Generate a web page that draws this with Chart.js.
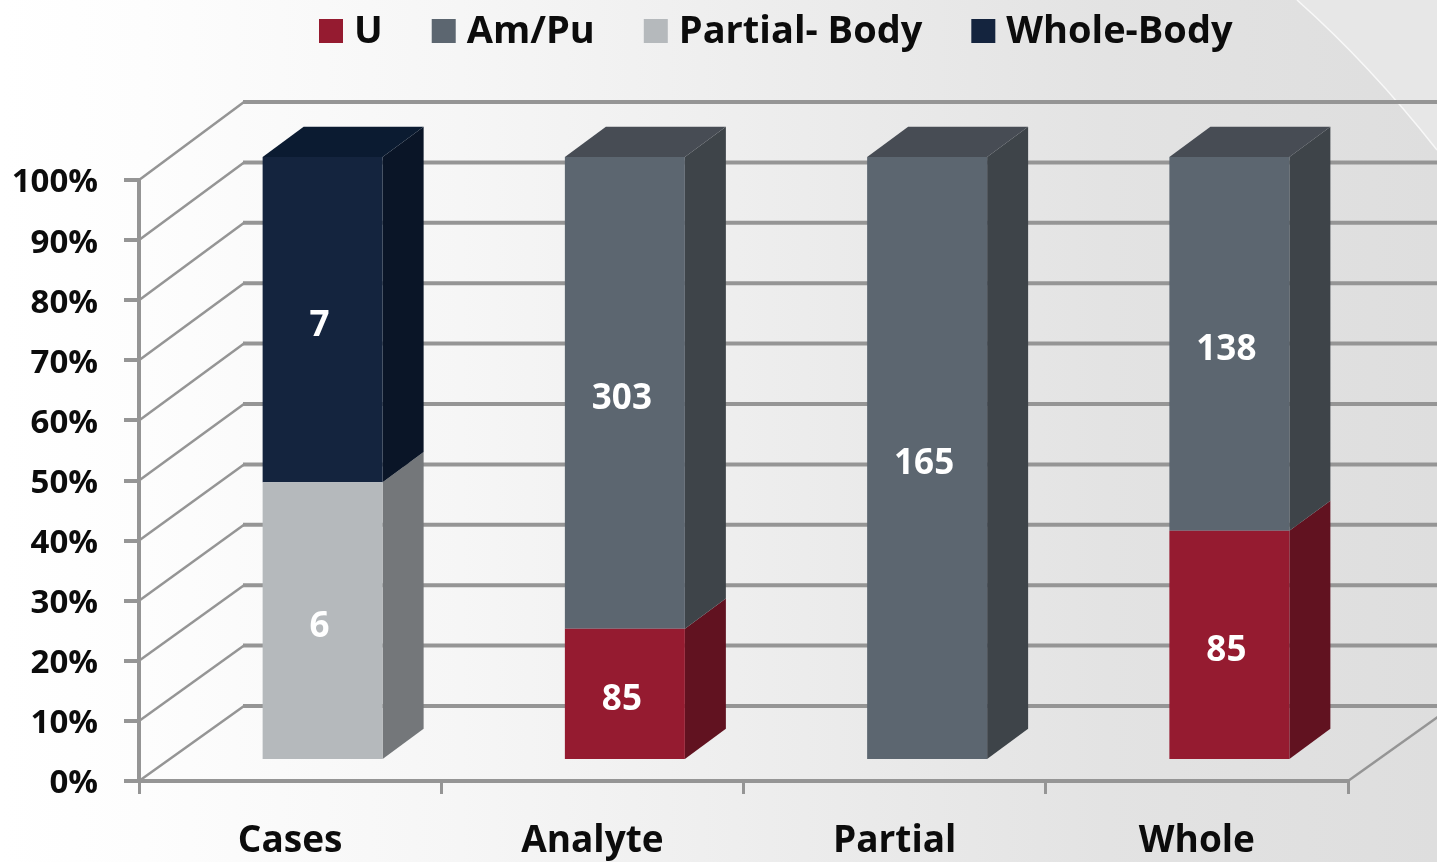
<!DOCTYPE html>
<html><head><meta charset="utf-8">
<style>html,body{margin:0;padding:0;background:#fff;overflow:hidden}canvas{display:block;filter:blur(0.5px)}</style>
<script src="https://cdn.jsdelivr.net/npm/chart.js@4/dist/chart.umd.min.js"></script>
</head><body><canvas id="c" width="1437" height="862"></canvas>
<script>
const categories = ['Cases', 'Analyte', 'Partial', 'Whole'];
const uCounts = [0, 85, 0, 85];
const amPuCounts = [0, 303, 165, 138];
const partialBodyCounts = [6, 0, 0, 0];
const wholeBodyCounts = [7, 0, 0, 0];
const seriesNames = ['U', 'Am/Pu', 'Partial- Body', 'Whole-Body'];
const seriesCounts = [uCounts, amPuCounts, partialBodyCounts, wholeBodyCounts];
const frontColors = ['#951b30', '#5c6670', '#b5b9bc', '#14243e'];
const sideColors = ['#611220', '#3e4449', '#74777a', '#0a1527'];
const topColors = ['#701525', '#474c54', '#8a8d90', '#0b1b31'];

const FONT = '"Open Sans", Lato, sans-serif';
const totals = categories.map((_, i) => seriesCounts.reduce((s, a) => s + a[i], 0));
const share = a => a.map((v, i) => v / totals[i] * 100);

const DX = 32.5, DY = -20, SY = 1.005, DEPTH_X = 41, DEPTH_Y = 30, BACK_X = 105;
const sceneY = y => 780 + (y - 780) * SY;

const paintBackground = {
  id: 'paintBackground',
  beforeDraw(chart) {
    const { ctx, width, height } = chart;
    const g = ctx.createLinearGradient(0, 0, width, 0);
    g.addColorStop(0, '#ffffff');
    g.addColorStop(0.1, '#fdfdfd');
    g.addColorStop(0.32, '#f6f6f6');
    g.addColorStop(0.56, '#ececec');
    g.addColorStop(0.77, '#e3e3e3');
    g.addColorStop(1, '#dedede');
    ctx.save();
    ctx.fillStyle = g;
    ctx.fillRect(0, 0, width, height);
    ctx.beginPath();
    ctx.moveTo(1297, 0);
    ctx.quadraticCurveTo(1370, 65, 1437, 150);
    ctx.lineTo(1437, 0);
    ctx.closePath();
    ctx.fillStyle = '#e7e7e7';
    ctx.fill();
    ctx.beginPath();
    ctx.moveTo(1297, 0);
    ctx.quadraticCurveTo(1370, 65, 1437, 150);
    ctx.strokeStyle = '#f8f8f8';
    ctx.lineWidth = 1.5;
    ctx.stroke();
    ctx.restore();
  }
};

const wallsAndFloor = {
  id: 'wallsAndFloor',
  beforeDatasetsDraw(chart) {
    const { ctx, scales: { x, y } } = chart;
    const left = x.left, right = x.right;
    const backX = left + BACK_X;
    ctx.save();
    ctx.strokeStyle = '#959595';
    y.ticks.forEach(t => {
      const fy = y.getPixelForValue(t.value);
      const by = sceneY(fy) - 75;
      ctx.lineWidth = 2.5;
      ctx.beginPath(); ctx.moveTo(left, fy); ctx.lineTo(backX, by); ctx.stroke();
      ctx.lineWidth = 4;
      ctx.beginPath(); ctx.moveTo(backX - 1, by); ctx.lineTo(chart.width, by); ctx.stroke();
    });
    const fy = y.getPixelForValue(0);
    ctx.lineWidth = 2.5;
    ctx.beginPath(); ctx.moveTo(right, fy); ctx.lineTo(right + BACK_X, fy - 75); ctx.stroke();
    ctx.restore();
  }
};

const bars3d = {
  id: 'bars3d',
  beforeDatasetsDraw(chart) {
    const { ctx } = chart;
    ctx.save();
    ctx.transform(1, 0, 0, SY, DX, DY + 780 - 780 * SY);
    chart.data.datasets.forEach((ds, di) => {
      const meta = chart.getDatasetMeta(di);
      meta.data.forEach((bar, i) => {
        if (!seriesCounts[di][i]) return;
        const r = bar.x + bar.width / 2, l = bar.x - bar.width / 2;
        ctx.fillStyle = sideColors[di];
        ctx.beginPath();
        ctx.moveTo(r, bar.base); ctx.lineTo(r + DEPTH_X, bar.base - DEPTH_Y);
        ctx.lineTo(r + DEPTH_X, bar.y - DEPTH_Y); ctx.lineTo(r, bar.y);
        ctx.closePath(); ctx.fill();
        const isTop = seriesCounts.slice(di + 1).every(a => !a[i]);
        if (isTop) {
          ctx.fillStyle = topColors[di];
          ctx.beginPath();
          ctx.moveTo(l, bar.y); ctx.lineTo(l + DEPTH_X, bar.y - DEPTH_Y);
          ctx.lineTo(r + DEPTH_X, bar.y - DEPTH_Y); ctx.lineTo(r, bar.y);
          ctx.closePath(); ctx.fill();
        }
      });
    });
  },
  afterDatasetsDraw(chart) {
    const { ctx } = chart;
    ctx.restore();
    ctx.save();
    ctx.font = 'bold 35px ' + FONT;
    ctx.fillStyle = '#ffffff';
    ctx.textAlign = 'center';
    ctx.textBaseline = 'middle';
    chart.data.datasets.forEach((ds, di) => {
      chart.getDatasetMeta(di).data.forEach((bar, i) => {
        const n = seriesCounts[di][i];
        if (!n) return;
        ctx.fillText(String(n), bar.x + DX - 3, sceneY((bar.y + bar.base) / 2) + DY + 6);
      });
    });
    ctx.restore();
  }
};

const topLegend = {
  id: 'topLegend',
  afterDraw(chart) {
    const { ctx } = chart;
    ctx.save();
    ctx.font = 'bold 38px ' + FONT;
    ctx.textBaseline = 'middle';
    ctx.textAlign = 'left';
    let px = 319;
    seriesNames.forEach((name, i) => {
      ctx.fillStyle = frontColors[i];
      ctx.fillRect(px, 19, 24, 24);
      ctx.fillStyle = '#0c0c0c';
      ctx.fillText(name, px + 35, 32);
      px += 35 + ctx.measureText(name).width + 49;
    });
    ctx.restore();
  }
};

new Chart(document.getElementById('c'), {
  type: 'bar',
  data: {
    labels: categories,
    datasets: seriesNames.map((name, i) => ({
      label: name,
      data: share(seriesCounts[i]),
      backgroundColor: frontColors[i],
      borderWidth: 0,
      clip: false,
      barPercentage: 0.397,
      categoryPercentage: 1
    }))
  },
  options: {
    responsive: false,
    animation: false,
    layout: { padding: { top: 180, right: 89, left: 0, bottom: 0 } },
    plugins: { legend: { display: false }, title: { display: false }, tooltip: { enabled: false } },
    scales: {
      x: {
        stacked: true,
        afterFit(s) { s.height = 81; },
        grid: { drawOnChartArea: false, color: '#959595', lineWidth: 3, tickLength: 13 },
        border: { color: '#959595', width: 4 },
        ticks: { color: '#0c0c0c', font: { family: FONT, size: 37, weight: 'bold' }, padding: 25, maxRotation: 0 }
      },
      y: {
        stacked: true,
        min: 0,
        max: 100,
        afterFit(s) { s.width = 139; },
        grid: { drawOnChartArea: false, color: '#959595', lineWidth: 4, tickLength: 15 },
        border: { color: '#959595', width: 4 },
        ticks: { stepSize: 10, color: '#0c0c0c', font: { family: FONT, size: 33, weight: 'bold' }, padding: 26, labelOffset: 3, callback: v => v + '%' }
      }
    }
  },
  plugins: [paintBackground, wallsAndFloor, bars3d, topLegend]
});
</script></body></html>
